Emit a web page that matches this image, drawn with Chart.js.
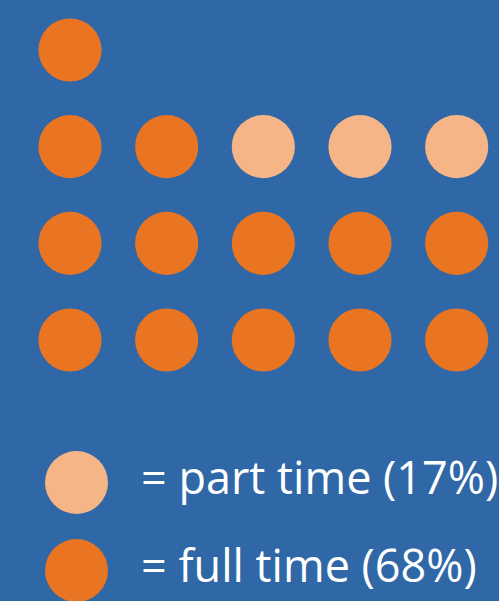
<!DOCTYPE html>
<html>
<head>
<meta charset="utf-8">
<script src="https://cdn.jsdelivr.net/npm/chart.js@4"></script>
<style>
  html, body { margin: 0; padding: 0; }
  body {
    width: 499px; height: 601px; overflow: hidden;
    background: #3067A6; position: relative;
    font-family: "Open Sans", sans-serif;
  }
  #dots { position: absolute; left: 0; top: 0; }
  .item { position: absolute; left: 0; width: 499px; height: 63px; }
  .item .dot {
    position: absolute; left: 44.5px; top: 0;
    width: 63px; height: 63px; border-radius: 50%;
  }
  .item .txt {
    position: absolute; left: 141px; top: 3px;
    font-size: 45px; line-height: 45px; color: #fff; white-space: nowrap;
  }
</style>
</head>
<body>
<canvas id="dots" width="499" height="390"></canvas>
<div id="legend"></div>

<script>
// DADOS
const categories = ["part time", "full time"];
const shares = [17, 68];
const colors = ["#F5B587", "#E97522"];

// dots per row, top to bottom (full time first, then part time)
const fullTimePerRow = [1, 2, 5, 5];
const partTimePerRow = [0, 3, 0, 0];

const fullPts = [];
const partPts = [];
fullTimePerRow.forEach((n, row) => {
  for (let i = 0; i < n; i++) fullPts.push({ x: i, y: row });
  for (let i = 0; i < partTimePerRow[row]; i++) partPts.push({ x: n + i, y: row });
});

// GRÁFICO
const chart = new Chart(document.getElementById("dots"), {
  type: "scatter",
  data: {
    datasets: [
      { label: categories[0], data: partPts, backgroundColor: colors[0] },
      { label: categories[1], data: fullPts, backgroundColor: colors[1] }
    ]
  },
  options: {
    responsive: false,
    animation: false,
    events: [],
    elements: { point: { radius: 31.6, hoverRadius: 31.6, borderWidth: 0 } },
    layout: { padding: 0, autoPadding: false },
    plugins: { legend: { display: false }, tooltip: { enabled: false } },
    scales: {
      x: { display: false, min: -70 / 96.67, max: (499 - 70) / 96.67 },
      y: { display: false, reverse: true, min: -50 / 96.67, max: (390 - 50) / 96.67 }
    }
  }
});

// LEGENDA
const legend = document.getElementById("legend");
chart.data.datasets.forEach((ds, i) => {
  const item = document.createElement("div");
  item.className = "item";
  item.style.top = (451.2 + i * 88) + "px";
  const dot = document.createElement("span");
  dot.className = "dot";
  dot.style.background = ds.backgroundColor;
  const txt = document.createElement("span");
  txt.className = "txt";
  txt.textContent = "= " + ds.label + " (" + shares[i] + "%)";
  item.appendChild(dot);
  item.appendChild(txt);
  legend.appendChild(item);
});
</script>
</body>
</html>
